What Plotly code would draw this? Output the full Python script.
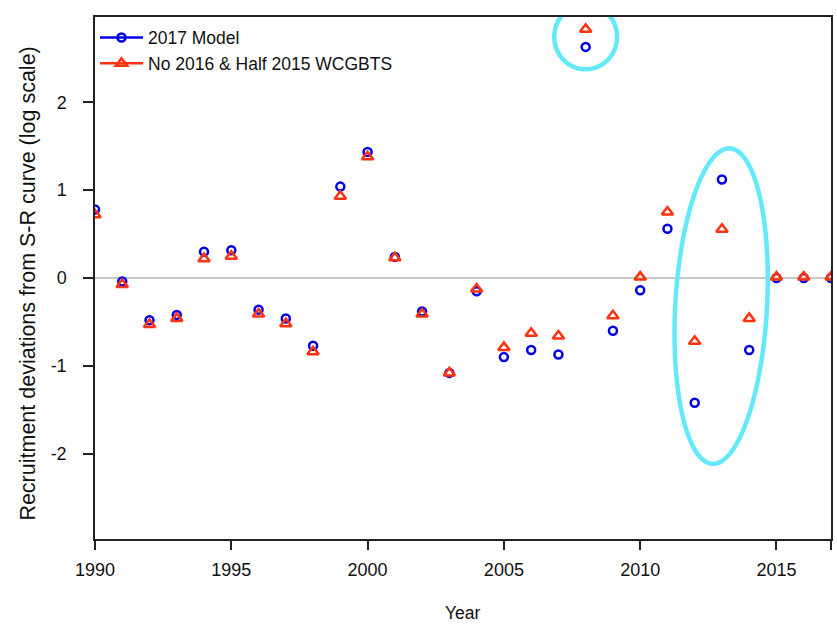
import numpy as np
import plotly.graph_objects as go

# Recruitment deviations by year
years = list(range(1990, 2018))
model_2017 = [0.78, -0.04, -0.48, -0.42, 0.30, 0.315, -0.36, -0.46, -0.77, 1.04,
              1.435, 0.24, -0.38, -1.08, -0.15, -0.90, -0.82, -0.87, 2.63, -0.60,
              -0.14, 0.56, -1.42, 1.12, -0.82, 0.0, 0.0, 0.0]
no2016_half2015 = [0.72, -0.075, -0.53, -0.46, 0.22, 0.247, -0.41, -0.52, -0.84, 0.93,
                   1.38, 0.23, -0.41, -1.08, -0.125, -0.79, -0.63, -0.66, 2.83, -0.43,
                   0.01, 0.75, -0.72, 0.555, -0.46, 0.01, 0.01, 0.01]

x_tickvals = [1990, 1995, 2000, 2005, 2010, 2015, 2017]
x_ticktext = ["1990", "1995", "2000", "2005", "2010", "2015", ""]
y_tickvals = [-2, -1, 0, 1, 2]
y_ticktext = ["-2", "-1", "0", "1", "2"]

BLUE = "#0000e6"
RED = "#ff3311"
CYAN = "#64e9f8"
FONT = "Arial, Liberation Sans, sans-serif"

W, H = 837, 625
margin = dict(l=95, r=4, t=17, b=86)
xr = [1990, 2017]
yr = [-2.97, 2.97]
plot_w = W - margin["l"] - margin["r"]
plot_h = H - margin["t"] - margin["b"]
px_per_x = plot_w / (xr[1] - xr[0])
px_per_y = plot_h / (yr[1] - yr[0])


def ellipse_path(cx, cy, a_px, b_px, deg, n=120):
    """Closed SVG path (data units) for an ellipse sized/rotated in screen pixels."""
    th = np.radians(deg)
    t = np.linspace(0, 2 * np.pi, n)
    ex, ey = a_px * np.cos(t), b_px * np.sin(t)
    rx = ex * np.cos(th) - ey * np.sin(th)
    ry = ex * np.sin(th) + ey * np.cos(th)
    xs = cx + rx / px_per_x
    ys = cy - ry / px_per_y
    pts = [f"{x:.4f},{y:.4f}" for x, y in zip(xs, ys)]
    return "M " + " L ".join(pts) + " Z"


fig = go.Figure()

fig.add_trace(go.Scatter(
    x=years, y=model_2017, mode="markers", showlegend=False,
    marker=dict(symbol="circle-open", size=8, color=BLUE, line=dict(width=2.5, color=BLUE)),
))
fig.add_trace(go.Scatter(
    x=years, y=no2016_half2015, mode="markers", showlegend=False,
    marker=dict(symbol="triangle-up-open", size=10, color=RED, line=dict(width=2.5, color=RED)),
))

# legend entries (line + marker glyphs)
fig.add_trace(go.Scatter(
    x=[None], y=[None], mode="lines+markers", name="2017 Model",
    line=dict(color=BLUE, width=2.5),
    marker=dict(symbol="circle-open", size=8, color=BLUE, line=dict(width=2.5, color=BLUE)),
))
fig.add_trace(go.Scatter(
    x=[None], y=[None], mode="lines+markers", name="No 2016 & Half 2015 WCGBTS",
    line=dict(color=RED, width=2.5),
    marker=dict(symbol="triangle-up-open", size=10, color=RED, line=dict(width=2.5, color=RED)),
))

# highlight rings
fig.add_shape(type="path", xref="x", yref="y",
              path=ellipse_path(2008.0, 2.745, 31.5, 32.5, 0),
              line=dict(color=CYAN, width=4.5), layer="above")
fig.add_shape(type="path", xref="x", yref="y",
              path=ellipse_path(2012.97, -0.32, 46, 158, 3.2),
              line=dict(color=CYAN, width=4.5), layer="above")

axis_common = dict(
    showgrid=False, showline=True, linecolor="#222222", linewidth=1.5, mirror=True,
    ticks="outside", tickcolor="#222222", tickwidth=1.5,
    tickfont=dict(family=FONT, size=18, color="#111111"),
)

fig.update_xaxes(range=xr, tickvals=x_tickvals, ticktext=x_ticktext, ticklen=9,
                 ticklabelstandoff=5, zeroline=False, **axis_common)
fig.update_yaxes(range=yr, tickvals=y_tickvals, ticktext=y_ticktext, ticklen=10,
                 ticklabelstandoff=13, zeroline=True, zerolinecolor="#c8c8c8",
                 zerolinewidth=2, **axis_common)

fig.add_annotation(text="Recruitment deviations from S-R curve (log scale)",
                   xref="paper", yref="paper", x=-0.0905, y=0.49, textangle=-90,
                   showarrow=False, xanchor="center", yanchor="middle",
                   font=dict(family=FONT, size=21.5, color="#111111"))
fig.add_annotation(text="Year", xref="paper", yref="paper", x=0.5, y=-0.1418,
                   showarrow=False, xanchor="center", yanchor="middle",
                   font=dict(family=FONT, size=17.5, color="#111111"))

fig.update_layout(
    width=W, height=H, margin=margin,
    paper_bgcolor="white", plot_bgcolor="white",
    legend=dict(x=0.0, y=0.995, xanchor="left", yanchor="top", bgcolor="rgba(0,0,0,0)",
                font=dict(family=FONT, size=17.5, color="#111111"),
                tracegroupgap=0, itemwidth=43),
    font=dict(family=FONT),
)

fig.write_html("out.html")
